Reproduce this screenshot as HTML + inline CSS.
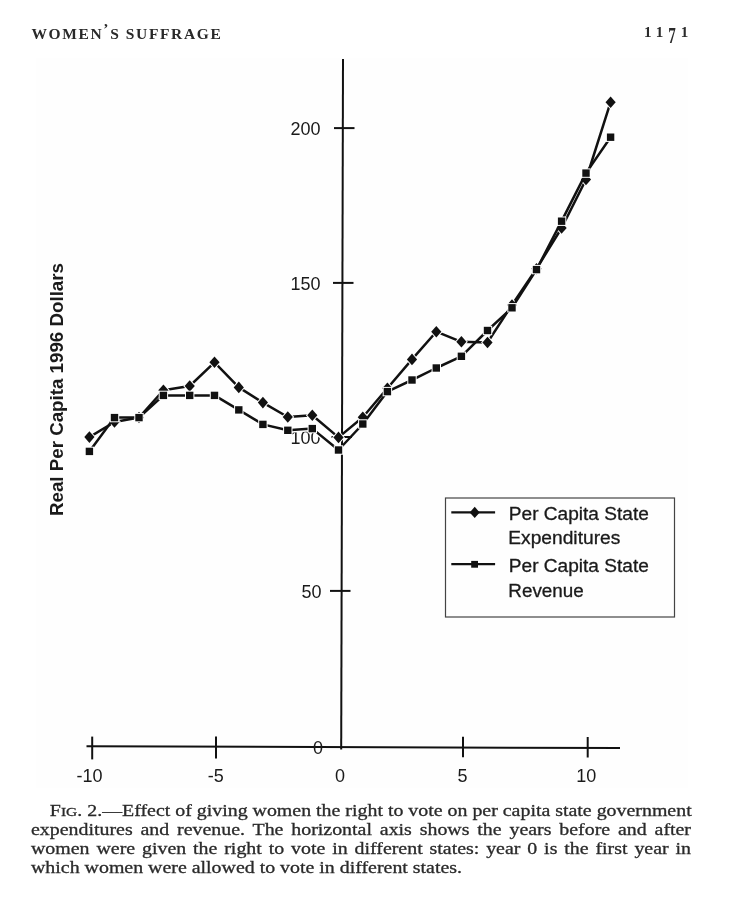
<!DOCTYPE html>
<html><head><meta charset="utf-8">
<style>
html,body{margin:0;padding:0;background:#fff;}
body{width:750px;height:902px;position:relative;overflow:hidden;}
.chart{position:absolute;left:0;top:0;}
.hdr{position:absolute;font-family:"Liberation Serif",serif;color:#2a2a2a;white-space:nowrap;}
.rh{left:31.5px;top:24.6px;font-size:15.5px;line-height:17px;letter-spacing:1.62px;font-weight:bold;}
.pn{left:644px;top:23.8px;font-size:15px;line-height:17px;letter-spacing:5px;font-weight:bold;}
.cap{position:absolute;left:31px;top:802.3px;-webkit-text-stroke:0.3px #2a2a2a;width:564.1px;transform:scaleX(1.170);transform-origin:0 0;font-family:"Liberation Serif",serif;font-size:17px;line-height:18.8px;color:#2a2a2a;}
.cap div{text-align:justify;text-align-last:justify;white-space:nowrap;}
.cap .l1{padding-left:16.1px;}
.cap .last{text-align-last:left;}
.sc{font-size:0.78em;line-height:0;}
</style></head><body>
<svg class="chart" width="750" height="902" viewBox="0 0 750 902">
<rect x="36" y="58" width="652" height="730" fill="#fefefe"/>
<g stroke="#111" fill="none" stroke-width="2">
<line x1="343" y1="59" x2="341.2" y2="749.5"/>
<line x1="86.5" y1="746.2" x2="620" y2="748.1"/>
<line x1="334" y1="128.1" x2="354.5" y2="128.1"/>
<line x1="333" y1="282.9" x2="353.5" y2="282.9"/>
<line x1="331.5" y1="437" x2="352" y2="437"/>
<line x1="330" y1="590.9" x2="350.5" y2="590.9"/>
<line x1="92.2" y1="736.6" x2="92.2" y2="759.4"/>
<line x1="216" y1="736.6" x2="216" y2="758.5"/>

<line x1="463" y1="736.8" x2="463" y2="757.2"/>
<line x1="587.7" y1="737" x2="587.7" y2="757.5"/>
</g>
<g font-family="Liberation Sans, Arial, sans-serif" font-size="18" fill="#1a1a1a">
<text x="320.5" y="135.3" text-anchor="end">200</text>
<text x="320.5" y="290" text-anchor="end">150</text>
<text x="320.5" y="443.5" text-anchor="end">100</text>
<text x="321.5" y="598" text-anchor="end">50</text>
<text x="323" y="753.5" text-anchor="end">0</text>
<text x="89.5" y="781.5" text-anchor="middle">-10</text>
<text x="215.8" y="781.8" text-anchor="middle">-5</text>
<text x="340" y="781.5" text-anchor="middle">0</text>
<text x="462.5" y="781.8" text-anchor="middle">5</text>
<text x="586.2" y="781.8" text-anchor="middle">10</text>
<text transform="translate(63.3 516) rotate(-90)" font-weight="bold" font-size="19" textLength="253" lengthAdjust="spacingAndGlyphs">Real Per Capita 1996 Dollars</text>
</g>
<g stroke="#fff" stroke-width="2" fill="#111" paint-order="stroke">
<polyline points="89.4,437.1 114.5,422.0 139.0,417.5 163.4,390.3 189.7,386.0 214.5,362.3 238.8,387.4 262.9,402.6 287.8,417.0 312.3,415.3 338.5,437.4 362.8,417.3 387.4,388.3 412.0,359.4 436.3,331.7 461.4,341.8 487.5,342.5 512.0,305.0 536.5,268.8 561.6,228.0 586.0,179.5 610.6,102.2" fill="none" stroke="#111" stroke-width="2.5" stroke-linejoin="round"/>
<path d="M89.4 431.3L94.5 437.1L89.4 442.9L84.3 437.1Z"/><path d="M114.5 416.2L119.6 422.0L114.5 427.8L109.4 422.0Z"/><path d="M139.0 411.7L144.1 417.5L139.0 423.3L133.9 417.5Z"/><path d="M163.4 384.5L168.5 390.3L163.4 396.1L158.3 390.3Z"/><path d="M189.7 380.2L194.8 386.0L189.7 391.8L184.6 386.0Z"/><path d="M214.5 356.5L219.6 362.3L214.5 368.1L209.4 362.3Z"/><path d="M238.8 381.6L243.9 387.4L238.8 393.2L233.7 387.4Z"/><path d="M262.9 396.8L268.0 402.6L262.9 408.4L257.8 402.6Z"/><path d="M287.8 411.2L292.9 417.0L287.8 422.8L282.7 417.0Z"/><path d="M312.3 409.5L317.4 415.3L312.3 421.1L307.2 415.3Z"/><path d="M338.5 431.6L343.6 437.4L338.5 443.2L333.4 437.4Z"/><path d="M362.8 411.5L367.9 417.3L362.8 423.1L357.7 417.3Z"/><path d="M387.4 382.5L392.5 388.3L387.4 394.1L382.3 388.3Z"/><path d="M412.0 353.6L417.1 359.4L412.0 365.2L406.9 359.4Z"/><path d="M436.3 325.9L441.4 331.7L436.3 337.5L431.2 331.7Z"/><path d="M461.4 336.0L466.5 341.8L461.4 347.6L456.3 341.8Z"/><path d="M487.5 336.7L492.6 342.5L487.5 348.3L482.4 342.5Z"/><path d="M512.0 299.2L517.1 305.0L512.0 310.8L506.9 305.0Z"/><path d="M536.5 263.0L541.6 268.8L536.5 274.6L531.4 268.8Z"/><path d="M561.6 222.2L566.7 228.0L561.6 233.8L556.5 228.0Z"/><path d="M586.0 173.7L591.1 179.5L586.0 185.3L580.9 179.5Z"/><path d="M610.6 96.4L615.7 102.2L610.6 108.0L605.5 102.2Z"/>
<polyline points="287.8,430.3 312.3,428.6 334.5,446" fill="none" stroke="#fff" stroke-width="5.5" stroke-linejoin="round"/>
<polyline points="89.4,451.4 114.5,417.6 139.0,417.6 163.4,395.4 189.7,395.4 214.5,395.4 238.8,409.9 262.9,424.4 287.8,430.3 312.3,428.6 338.5,450.0 362.8,424.0 387.4,391.6 412.0,380.0 436.3,368.0 461.4,356.3 487.5,330.5 512.0,307.8 536.5,269.6 561.6,221.2 586.0,173.1 610.6,137.2" fill="none" stroke="#111" stroke-width="2.5" stroke-linejoin="round"/>
<rect x="85.7" y="447.7" width="7.4" height="7.4"/><rect x="110.8" y="413.9" width="7.4" height="7.4"/><rect x="135.3" y="413.9" width="7.4" height="7.4"/><rect x="159.7" y="391.7" width="7.4" height="7.4"/><rect x="186.0" y="391.7" width="7.4" height="7.4"/><rect x="210.8" y="391.7" width="7.4" height="7.4"/><rect x="235.1" y="406.2" width="7.4" height="7.4"/><rect x="259.2" y="420.7" width="7.4" height="7.4"/><rect x="284.1" y="426.6" width="7.4" height="7.4"/><rect x="308.6" y="424.9" width="7.4" height="7.4"/><rect x="334.8" y="446.3" width="7.4" height="7.4"/><rect x="359.1" y="420.3" width="7.4" height="7.4"/><rect x="383.7" y="387.9" width="7.4" height="7.4"/><rect x="408.3" y="376.3" width="7.4" height="7.4"/><rect x="432.6" y="364.3" width="7.4" height="7.4"/><rect x="457.7" y="352.6" width="7.4" height="7.4"/><rect x="483.8" y="326.8" width="7.4" height="7.4"/><rect x="508.3" y="304.1" width="7.4" height="7.4"/><rect x="532.8" y="265.9" width="7.4" height="7.4"/><rect x="557.9" y="217.5" width="7.4" height="7.4"/><rect x="582.3" y="169.4" width="7.4" height="7.4"/><rect x="606.9" y="133.5" width="7.4" height="7.4"/>
</g>
<rect x="445.5" y="498" width="229" height="119" fill="none" stroke="#444" stroke-width="1.2"/>
<g stroke="#111" stroke-width="2.2">
<line x1="451.3" y1="512.4" x2="495.1" y2="512.4"/>
<line x1="451.3" y1="564.2" x2="495.1" y2="564.2"/>
</g>
<path d="M474.7 506.8L479.7 512.4L474.7 518L469.7 512.4Z" fill="#111"/>
<rect x="471.2" y="560.9" width="6.8" height="6.8" fill="#111"/>
<g font-family="Liberation Sans, Arial, sans-serif" font-size="17.5" fill="#1a1a1a" stroke="#1a1a1a" stroke-width="0.3">
<text x="508.8" y="520" textLength="140" lengthAdjust="spacingAndGlyphs">Per Capita State</text>
<text x="508.3" y="544.3" textLength="112" lengthAdjust="spacingAndGlyphs">Expenditures</text>
<text x="508.8" y="572.3" textLength="140" lengthAdjust="spacingAndGlyphs">Per Capita State</text>
<text x="508.3" y="596.8" textLength="75.5" lengthAdjust="spacingAndGlyphs">Revenue</text>
</g>
</svg>
<div class="hdr rh">WOMEN<span style="position:relative;top:-5px">&#8217;</span>S SUFFRAGE</div>
<div class="hdr pn">11<span style="display:inline-block;transform:scaleY(1.6);transform-origin:50% 22%;">7</span>1</div>
<div class="cap">
<div class="l1">F<span class="sc">IG</span>. 2.&#8212;Effect of giving women the right to vote on per capita state government</div>
<div>expenditures and revenue. The horizontal axis shows the years before and after</div>
<div>women were given the right to vote in different states: year 0 is the first year in</div>
<div class="last">which women were allowed to vote in different states.</div>
</div>
</body></html>
